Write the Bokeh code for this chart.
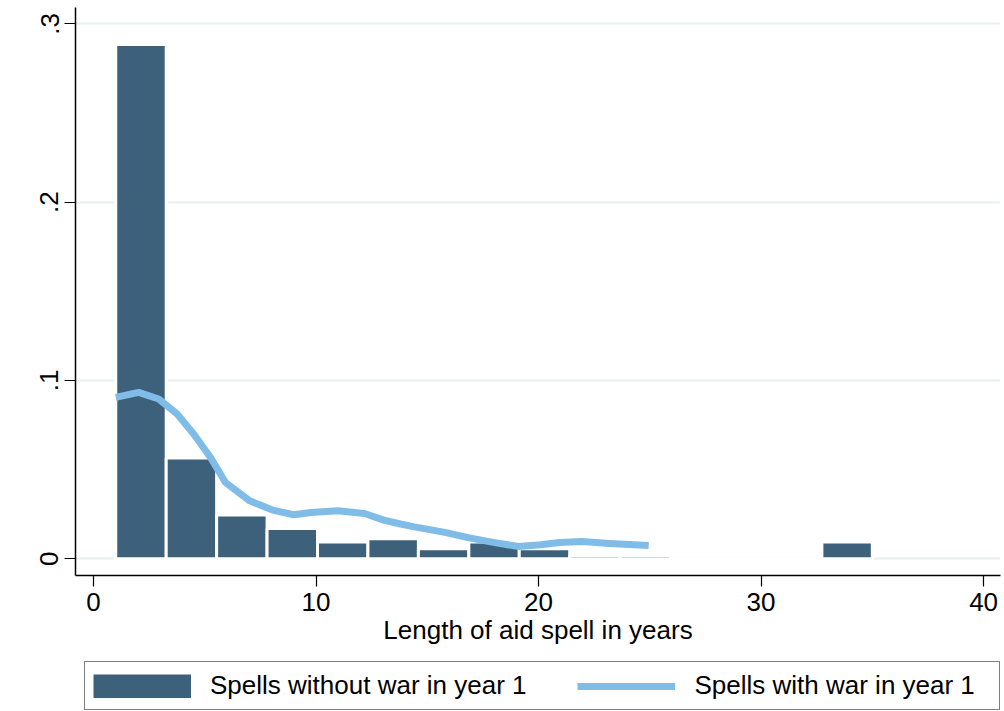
from bokeh.plotting import figure
from bokeh.layouts import column
from bokeh.models import Range1d, FixedTicker, Legend, LegendItem, ColumnDataSource
from bokeh.embed import file_html
from bokeh.resources import INLINE

# Histogram: spells without war in year 1 (density, 15 bins of width ~2.267 from 1 to 35)
bin_left = [1.0, 3.267, 5.533, 7.8, 10.067, 12.333, 14.6, 16.867, 19.133, 21.4,
            23.667, 25.933, 28.2, 30.467, 32.733]
bin_right = [3.267, 5.533, 7.8, 10.067, 12.333, 14.6, 16.867, 19.133, 21.4, 23.667,
             25.933, 28.2, 30.467, 32.733, 35.0]
density_no_war = [0.2884, 0.0566, 0.0245, 0.0170, 0.0094, 0.0113, 0.0057, 0.0094,
                  0.0057, 0.0019, 0.0019, 0.0, 0.0, 0.0, 0.0094]

# Kernel density: spells with war in year 1
kde_x = [1.0, 2.03, 2.93, 3.76, 4.51, 5.26, 5.93, 7.02, 8.05, 9.0, 9.77, 10.98,
         12.18, 13.04, 13.8, 14.42, 15.79, 16.83, 18.03, 19.1, 20.09, 20.95,
         21.95, 23.19, 24.95]
kde_y = [0.0905, 0.0933, 0.0896, 0.0812, 0.0699, 0.0568, 0.0428, 0.0325, 0.0273,
         0.0247, 0.0260, 0.0269, 0.0254, 0.0217, 0.0195, 0.0179, 0.0148, 0.0119,
         0.0091, 0.0069, 0.0079, 0.0091, 0.0097, 0.0086, 0.0075]

x_ticks = [0, 10, 20, 30, 40]
y_ticks = [0, 0.1, 0.2, 0.3]
y_tick_labels = {0: "0", 0.1: ".1", 0.2: ".2", 0.3: ".3"}

legend_labels = ["Spells without war in year 1", "Spells with war in year 1"]
x_title = "Length of aid spell in years"

BAR = "#3e617b"
LINE = "#7fbde8"
GRID = "#e6eff2"
FONT = "Liberation Sans"

p = figure(width=1004, height=655, output_backend="svg", toolbar_location=None,
           x_range=Range1d(-0.809, 40.76), y_range=Range1d(-0.00937, 0.3092),
           min_border_left=75, min_border_top=7, min_border_right=4,
           min_border_bottom=80)
p.outline_line_color = None
p.background_fill_color = "white"
p.border_fill_color = "white"

src = ColumnDataSource(dict(left=bin_left, right=bin_right, top=density_no_war,
                            bottom=[0] * len(bin_left)))
kde_src = ColumnDataSource(dict(x=kde_x, y=kde_y))
line_style = dict(line_color=LINE, line_width=7, line_join="round")
bars = p.quad(left="left", right="right", top="top", bottom="bottom", source=src,
              fill_color=BAR, line_color="white", line_width=3)
kde = p.line(x="x", y="y", source=kde_src, **line_style)

p.xgrid.grid_line_color = None
p.ygrid.grid_line_color = GRID
p.ygrid.grid_line_width = 2
p.ygrid.level = "underlay"

p.xaxis.ticker = FixedTicker(ticks=x_ticks)
p.yaxis.ticker = FixedTicker(ticks=y_ticks)
p.yaxis.major_label_overrides = y_tick_labels
p.yaxis.major_label_orientation = "vertical"
for ax in (p.xaxis[0], p.yaxis[0]):
    ax.axis_line_color = "black"
    ax.axis_line_width = 1.5
    ax.major_tick_line_color = "black"
    ax.major_tick_line_width = 1.2
    ax.major_tick_out = 11
    ax.major_tick_in = 0
    ax.minor_tick_out = 0
    ax.minor_tick_in = 0
    ax.major_label_text_font = FONT
    ax.major_label_text_font_size = "26px"
    ax.major_label_text_color = "black"
    ax.major_label_standoff = 6
p.xaxis.axis_label = x_title
p.xaxis.axis_label_text_font = FONT
p.xaxis.axis_label_text_font_size = "26px"
p.xaxis.axis_label_text_font_style = "normal"
p.xaxis.axis_label_text_color = "black"
p.xaxis.axis_label_standoff = 1

# Legend strip below the chart (its proxy glyphs use the same data, kept out of view)
lg = figure(width=1004, height=56, output_backend="svg", toolbar_location=None,
            x_range=Range1d(-3, -2), y_range=Range1d(-3, -2),
            x_axis_location=None, y_axis_location=None,
            min_border_left=75, min_border_right=4, min_border_top=0,
            min_border_bottom=0)
lg.outline_line_color = None
lg.grid.grid_line_color = None
# solid swatch for the bars (a thick butt-capped stroke fills the whole glyph box)
lbar = lg.line(x="left", y="top", source=src, line_color=BAR, line_width=24,
               line_cap="butt")
lline = lg.line(x="x", y="y", source=kde_src, **line_style)

legend = Legend(items=[LegendItem(label=legend_labels[0], renderers=[lbar]),
                       LegendItem(label=legend_labels[1], renderers=[lline])],
                orientation="horizontal", location=(9, 1))
legend.label_text_font = FONT
legend.label_text_font_size = "26px"
legend.label_text_color = "black"
legend.glyph_width = 98
legend.glyph_height = 24
legend.label_standoff = 19
legend.spacing = 51
legend.padding = 8
legend.margin = 0
legend.label_width = 297
legend.border_line_color = "black"
legend.border_line_width = 1.3
legend.background_fill_color = "white"
lg.add_layout(legend, "center")

open("out.html", "w").write(file_html(column(p, lg, spacing=0), INLINE))
